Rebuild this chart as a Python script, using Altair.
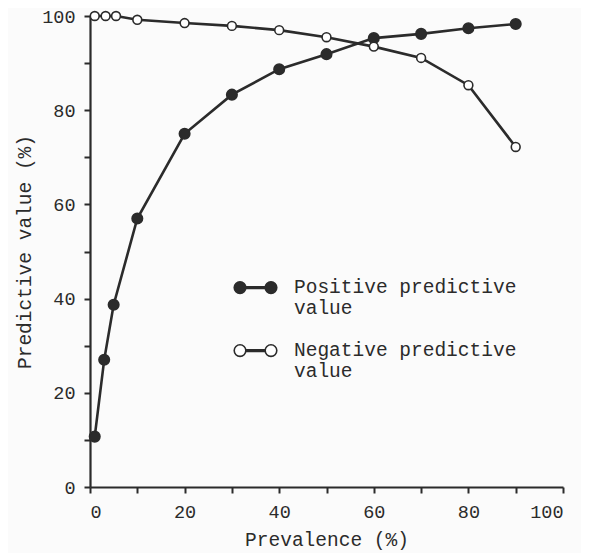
import altair as alt
import pandas as pd

# Data
series_names = ["Positive predictive value", "Negative predictive value"]
prev_ppv = [1, 3, 5, 10, 20, 30, 40, 50, 60, 70, 80, 90]
ppv = [10.7, 27, 38.7, 57, 75, 83.3, 88.7, 91.9, 95.3, 96.2, 97.4, 98.3]
prev_npv = [1, 3.3, 5.5, 10, 20, 30, 40, 50, 60, 70, 80, 90]
npv = [100, 100, 100, 99.2, 98.5, 97.9, 97.0, 95.5, 93.5, 91.1, 85.3, 72.2]
x_ticks = [0, 10, 20, 30, 40, 50, 60, 70, 80, 90, 100]
y_ticks = [0, 10, 20, 30, 40, 50, 60, 70, 80, 90, 100]

rows = []
for xv, yv in zip(prev_ppv, ppv):
    rows.append({"prev": xv, "val": yv, "series": series_names[0]})
for xv, yv in zip(prev_npv, npv):
    rows.append({"prev": xv, "val": yv, "series": series_names[1]})
df = pd.DataFrame(rows)

INK = "#2b2b2b"
FONT = "Liberation Mono"

# legend symbol: circle - bar - circle, shifted down to line up with first label line
dy = 0.47
def circ(cx, r, y):
    return (f"M{cx - r:.3f},{y:.3f} A{r},{r} 0 1,0 {cx + r:.3f},{y:.3f} "
            f"A{r},{r} 0 1,0 {cx - r:.3f},{y:.3f} Z ")
legend_path = (circ(-0.72, 0.27, dy) + circ(0.72, 0.27, dy) +
               f"M-0.45,{dy - 0.035:.3f} L0.45,{dy - 0.035:.3f} L0.45,{dy + 0.035:.3f} L-0.45,{dy + 0.035:.3f} Z")

x_enc = alt.X("prev:Q", scale=alt.Scale(domain=[0, 100], nice=False),
              axis=alt.Axis(values=x_ticks, title="Prevalence (%)",
                            labelExpr="datum.value % 20 == 0 ? datum.label : ''"))
y_enc = alt.Y("val:Q", scale=alt.Scale(domain=[0, 100], nice=False),
              axis=alt.Axis(values=y_ticks, title="Predictive value (%)",
                            labelExpr="datum.value % 20 == 0 ? datum.label : ''"))

fill_enc = alt.Fill("series:N",
                    scale=alt.Scale(domain=series_names, range=[INK, "#ffffff"]),
                    legend=alt.Legend(
                        title=None, orient="none", legendX=143, legendY=239,
                        symbolType=legend_path, symbolSize=1849,
                        symbolStrokeColor=INK, symbolStrokeWidth=1.6,
                        labelFont=FONT, labelFontSize=19.5, labelColor=INK,
                        labelLimit=400, labelOffset=16, labelBaseline="top",
                        rowPadding=0,
                        labelExpr="[substring(datum.label, 0, 19), substring(datum.label, 20)]",
                    ))

lines = alt.Chart(df).mark_line(color=INK, strokeWidth=2.6).encode(
    x=x_enc, y=y_enc, detail="series:N", order="prev:Q"
)

pos_points = alt.Chart(df).transform_filter(
    alt.datum.series == series_names[0]
).mark_point(filled=True, stroke=INK, strokeWidth=1.6, opacity=1, shape="circle",
             size=110).encode(x=x_enc, y=y_enc, fill=fill_enc)

neg_points = alt.Chart(df).transform_filter(
    alt.datum.series == series_names[1]
).mark_point(filled=True, stroke=INK, strokeWidth=1.6, opacity=1, shape="circle",
             size=78).encode(x=x_enc, y=y_enc, fill=fill_enc)

chart = alt.layer(lines, pos_points, neg_points).properties(
    width=473, height=471,
    autosize=alt.AutoSizeParams(type="none"),
    padding={"left": 82, "top": 8, "right": 18, "bottom": 66},
    background="#fbfbfb",
).configure_view(stroke=None).configure_axis(
    grid=False, domainColor=INK, domainWidth=2.2, tickColor=INK, tickWidth=2,
    tickSize=6, labelFont=FONT, labelFontSize=18.5, labelColor=INK, labelPadding=9,
    titleFont=FONT, titleFontSize=19.5, titleFontWeight="normal", titleColor=INK,
).configure_axisX(titlePadding=10).configure_axisY(titlePadding=7)

chart.save("out.html", embed_options={"renderer": "svg", "actions": False})
